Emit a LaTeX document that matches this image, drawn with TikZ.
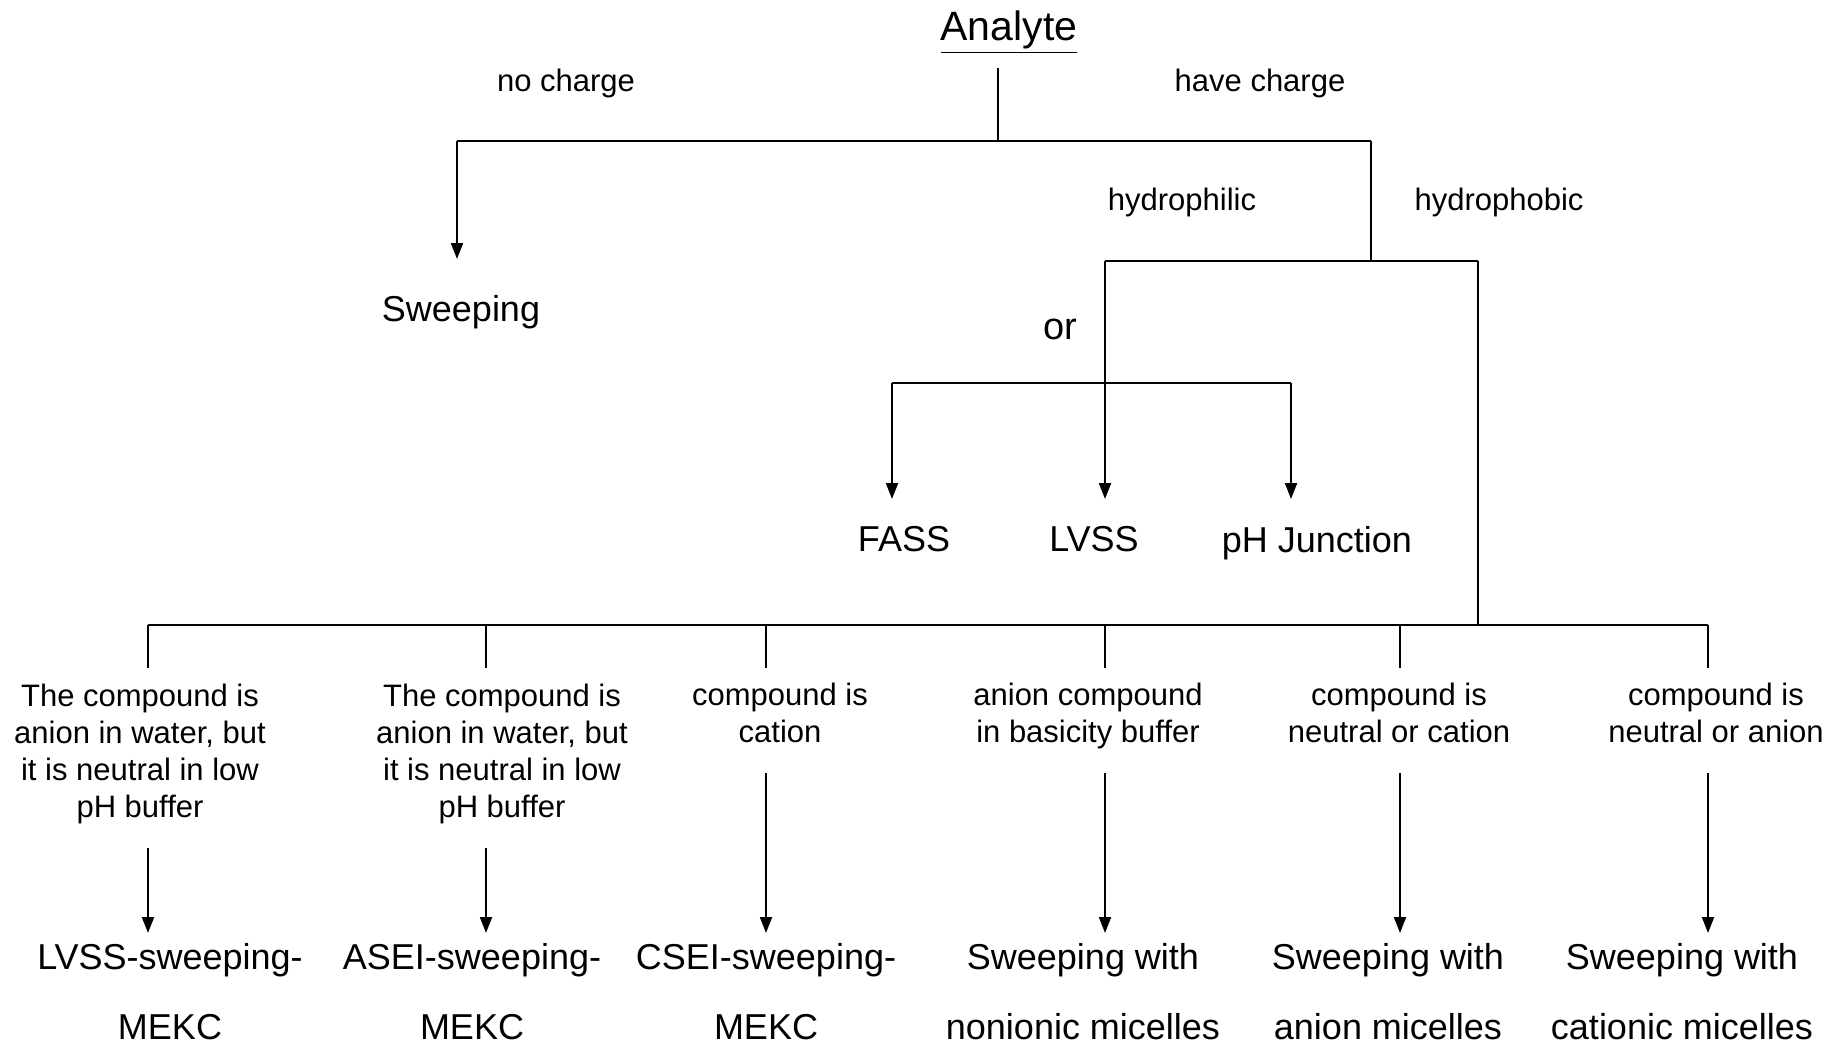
\documentclass[tikz,border=0pt]{standalone}
\usepackage{fontspec}
\setmainfont{Liberation Sans}
\usetikzlibrary{arrows.meta}
\begin{document}
\begin{tikzpicture}[x=0.5pt,y=-0.5pt,
  lbl/.style={font=\fontsize{15.5}{18.5}\selectfont, inner sep=0pt, align=center},
  res/.style={font=\fontsize{18}{35}\selectfont, inner sep=0pt, align=center},
  big/.style={font=\fontsize{18}{21}\selectfont, inner sep=0pt},
  ln/.style={line width=1pt},
  arr/.style={ln, -{Triangle[length=8pt,width=6pt]}}]
\useasboundingbox (0,0) rectangle (1829,1044);
% texts
\node[font=\fontsize{20.5}{24}\selectfont, inner sep=0pt] (analyte) at (1009,32) {\underline{Analyte}};
\node[lbl] (nocharge) at (566,83) {no charge};
\node[lbl] (havecharge) at (1260,83) {have charge};
\node[lbl] (hphil) at (1182,202) {hydrophilic};
\node[lbl] (hphob) at (1499,202) {hydrophobic};
\node[big] (sweep) at (461,312) {Sweeping};
\node[font=\fontsize{19}{22}\selectfont, inner sep=0pt] (or) at (1060,329) {or};
\node[big] (fass) at (904,539) {FASS};
\node[big] (lvss) at (1094,539) {LVSS};
\node[big] (phj) at (1317,543) {pH Junction};
% conditions
\node[lbl] (c1) at (140,756) {The compound is\\anion in water, but\\it is neutral in low\\pH buffer\strut};
\node[lbl] (c2) at (502,756) {The compound is\\anion in water, but\\it is neutral in low\\pH buffer\strut};
\node[lbl] (c3) at (780,718) {compound is\\cation\strut};
\node[lbl] (c4) at (1088,718) {anion compound\\in basicity buffer\strut};
\node[lbl] (c5) at (1399,718) {compound is\\neutral or cation\strut};
\node[lbl] (c6) at (1716,718) {compound is\\neutral or anion\strut};
% results
\node[res] (r1) at (170,992) {LVSS-sweeping-\\MEKC};
\node[res] (r2) at (472,992) {ASEI-sweeping-\\MEKC};
\node[res] (r3) at (766,992) {CSEI-sweeping-\\MEKC};
\node[res] (r4) at (1083,992) {Sweeping with\\nonionic micelles};
\node[res] (r5) at (1388,992) {Sweeping with\\anion micelles};
\node[res] (r6) at (1682,992) {Sweeping with\\cationic micelles};
% coordinates
\coordinate (aTop) at (998,68);
\coordinate (jA) at (998,141);
\coordinate (jL) at (457,141);
\coordinate (jR) at (1371,141);
\coordinate (tSweep) at (457,259);
\coordinate (jH) at (1371,261);
\coordinate (hL) at (1105,261);
\coordinate (hR) at (1478,261);
\coordinate (tLvss) at (1105,499);
\coordinate (oL) at (892,383);
\coordinate (oR) at (1291,383);
\coordinate (tFass) at (892,499);
\coordinate (tPhj) at (1291,499);
\coordinate (bR) at (1478,625);
\coordinate (bL) at (148,625);
\coordinate (bE) at (1708,625);
% connectors top
\draw[ln] (aTop) -- (jA);
\draw[ln] (jL) -- (jR);
\draw[arr] (jL) -- (tSweep);
\draw[ln] (jR) -- (jH);
\draw[ln] (hL) -- (hR);
\draw[arr] (hL) -- (tLvss);
\draw[ln] (oL) -- (oR);
\draw[arr] (oL) -- (tFass);
\draw[arr] (oR) -- (tPhj);
\draw[ln] (hR) -- (bR);
\draw[ln] (bL) -- (bE);
% drops and arrows
\foreach \x/\ya in {148/848, 486/848, 766/773, 1105/773, 1400/773, 1708/773} {
  \draw[ln] (\x,625) -- (\x,668);
  \draw[arr] (\x,\ya) -- (\x,933);
}
\end{tikzpicture}
\end{document}
